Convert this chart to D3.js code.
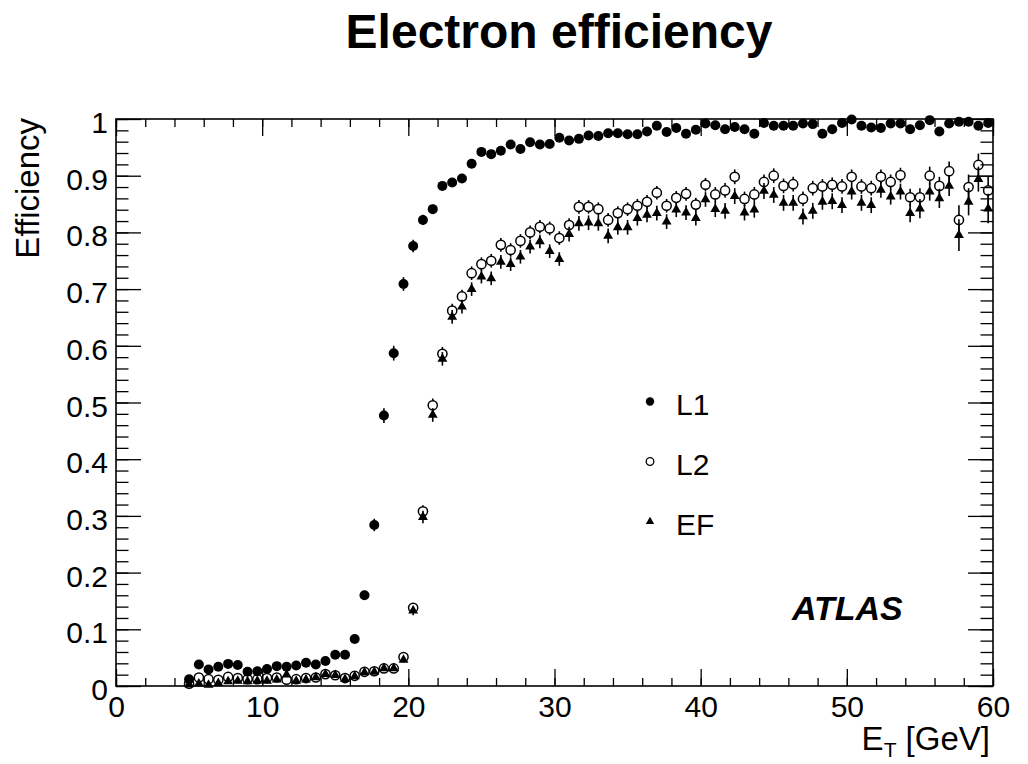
<!DOCTYPE html>
<html>
<head>
<meta charset="utf-8">
<script src="https://cdn.jsdelivr.net/npm/d3@7"></script>
<style>
  body { margin: 0; background: #fff; }
  text { font-family: "Liberation Sans", Arial, Helvetica, sans-serif; }
</style>
</head>
<body>
<svg id="viz"></svg>
<script>

var width = 1028, height = 764

// bin centres of the E_T histogram [GeV]
var etBins = [
  5.00, 5.67, 6.33, 7.00, 7.67, 8.33, 9.00, 9.67, 10.33, 11.00,
  11.67, 12.33, 13.00, 13.67, 14.33, 15.00, 15.67, 16.33, 17.00, 17.67,
  18.33, 19.00, 19.67, 20.33, 21.00, 21.67, 22.33, 23.00, 23.67, 24.33,
  25.00, 25.67, 26.33, 27.00, 27.67, 28.33, 29.00, 29.67, 30.33, 31.00,
  31.67, 32.33, 33.00, 33.67, 34.33, 35.00, 35.67, 36.33, 37.00, 37.67,
  38.33, 39.00, 39.67, 40.33, 41.00, 41.67, 42.33, 43.00, 43.67, 44.33,
  45.00, 45.67, 46.33, 47.00, 47.67, 48.33, 49.00, 49.67, 50.33, 51.00,
  51.67, 52.33, 53.00, 53.67, 54.33, 55.00, 55.67, 56.33, 57.00, 57.67,
  58.33, 59.00, 59.67
]

var effL1 = [
  0.012, 0.038, 0.029, 0.034, 0.039, 0.037, 0.025, 0.026, 0.030, 0.035,
  0.034, 0.036, 0.041, 0.038, 0.044, 0.055, 0.055, 0.083, 0.160, 0.284,
  0.477, 0.587, 0.709, 0.776, 0.822, 0.841, 0.882, 0.888, 0.895, 0.921,
  0.942, 0.938, 0.944, 0.955, 0.947, 0.959, 0.955, 0.956, 0.967, 0.962,
  0.965, 0.971, 0.970, 0.975, 0.975, 0.973, 0.973, 0.978, 0.988, 0.977,
  0.984, 0.974, 0.981, 0.992, 0.989, 0.982, 0.986, 0.982, 0.974, 0.993,
  0.988, 0.988, 0.988, 0.992, 0.991, 0.974, 0.982, 0.993, 0.999, 0.988,
  0.985, 0.984, 0.992, 0.992, 0.982, 0.989, 0.998, 0.978, 0.992, 0.995,
  0.995, 0.988, 0.993
]
var errL1 = [
  0.004, 0.004, 0.004, 0.004, 0.004, 0.004, 0.004, 0.004, 0.004, 0.004,
  0.004, 0.004, 0.004, 0.004, 0.004, 0.004, 0.004, 0.004, 0.008, 0.011,
  0.013, 0.013, 0.012, 0.011, 0.009, 0.008, 0.007, 0.007, 0.006, 0.005,
  0.005, 0.005, 0.005, 0.005, 0.005, 0.005, 0.005, 0.005, 0.005, 0.005,
  0.005, 0.005, 0.005, 0.005, 0.005, 0.005, 0.005, 0.005, 0.005, 0.005,
  0.005, 0.005, 0.005, 0.005, 0.005, 0.005, 0.005, 0.005, 0.005, 0.005,
  0.005, 0.005, 0.005, 0.005, 0.005, 0.005, 0.005, 0.005, 0.005, 0.005,
  0.005, 0.005, 0.005, 0.005, 0.005, 0.005, 0.005, 0.005, 0.005, 0.005,
  0.005, 0.005, 0.005
]

var effL2 = [
  0.004, 0.015, 0.012, 0.011, 0.016, 0.014, 0.012, 0.012, 0.014, 0.015,
  0.011, 0.012, 0.014, 0.015, 0.021, 0.019, 0.014, 0.018, 0.025, 0.026,
  0.031, 0.031, 0.051, 0.138, 0.308, 0.495, 0.586, 0.662, 0.687, 0.728,
  0.744, 0.750, 0.778, 0.769, 0.785, 0.800, 0.810, 0.807, 0.790, 0.813,
  0.845, 0.845, 0.841, 0.822, 0.834, 0.841, 0.847, 0.854, 0.870, 0.847,
  0.861, 0.868, 0.849, 0.884, 0.867, 0.874, 0.898, 0.859, 0.867, 0.889,
  0.900, 0.882, 0.885, 0.859, 0.878, 0.881, 0.884, 0.881, 0.898, 0.881,
  0.878, 0.898, 0.889, 0.901, 0.862, 0.862, 0.900, 0.882, 0.908, 0.822,
  0.880, 0.919, 0.874
]
var errL2 = [
  0.005, 0.005, 0.005, 0.005, 0.005, 0.005, 0.005, 0.005, 0.005, 0.005,
  0.005, 0.005, 0.005, 0.005, 0.005, 0.005, 0.005, 0.005, 0.005, 0.005,
  0.005, 0.005, 0.005, 0.008, 0.011, 0.012, 0.012, 0.012, 0.012, 0.012,
  0.012, 0.012, 0.012, 0.012, 0.012, 0.012, 0.012, 0.012, 0.012, 0.012,
  0.012, 0.012, 0.012, 0.012, 0.012, 0.012, 0.012, 0.012, 0.012, 0.012,
  0.012, 0.012, 0.012, 0.012, 0.013, 0.013, 0.013, 0.013, 0.013, 0.013,
  0.013, 0.013, 0.013, 0.013, 0.013, 0.013, 0.013, 0.013, 0.013, 0.013,
  0.013, 0.013, 0.013, 0.013, 0.015, 0.016, 0.016, 0.016, 0.017, 0.026,
  0.022, 0.020, 0.024
]

var effEF = [
  0.003, 0.004, 0.002, 0.005, 0.008, 0.009, 0.008, 0.009, 0.009, 0.011,
  0.020, 0.009, 0.011, 0.015, 0.021, 0.019, 0.012, 0.017, 0.024, 0.025,
  0.031, 0.031, 0.046, 0.133, 0.298, 0.478, 0.577, 0.651, 0.669, 0.700,
  0.722, 0.719, 0.748, 0.744, 0.757, 0.775, 0.784, 0.767, 0.753, 0.797,
  0.816, 0.817, 0.816, 0.794, 0.809, 0.809, 0.825, 0.831, 0.834, 0.819,
  0.840, 0.835, 0.825, 0.858, 0.841, 0.838, 0.864, 0.835, 0.840, 0.873,
  0.866, 0.852, 0.852, 0.828, 0.838, 0.854, 0.855, 0.848, 0.872, 0.852,
  0.848, 0.875, 0.863, 0.872, 0.834, 0.842, 0.872, 0.860, 0.882, 0.795,
  0.854, 0.894, 0.842
]
var errEF = [
  0.004, 0.004, 0.004, 0.004, 0.004, 0.004, 0.004, 0.004, 0.004, 0.004,
  0.004, 0.004, 0.004, 0.004, 0.004, 0.004, 0.004, 0.004, 0.004, 0.004,
  0.004, 0.004, 0.004, 0.008, 0.011, 0.012, 0.012, 0.012, 0.012, 0.012,
  0.012, 0.012, 0.012, 0.012, 0.012, 0.012, 0.012, 0.012, 0.012, 0.013,
  0.013, 0.013, 0.013, 0.013, 0.013, 0.013, 0.013, 0.013, 0.013, 0.013,
  0.013, 0.013, 0.013, 0.013, 0.014, 0.014, 0.014, 0.014, 0.014, 0.014,
  0.014, 0.014, 0.014, 0.014, 0.014, 0.014, 0.014, 0.014, 0.014, 0.014,
  0.014, 0.014, 0.014, 0.014, 0.016, 0.017, 0.016, 0.017, 0.018, 0.028,
  0.024, 0.022, 0.026
]

var legendNames = ['L1', 'L2', 'EF']
var xMajorTicks = [0, 10, 20, 30, 40, 50, 60]

var x = d3.scaleLinear().domain([0, 60]).range([116, 993])
var y = d3.scaleLinear().domain([0, 1]).range([686, 119])

const svg = d3.select('svg#viz')
    .attr('width', width)
    .attr('height', height)

svg.append('rect')
    .attr('width', width).attr('height', height)
    .attr('fill', '#fff')

// axes, ROOT style: ticks pointing inwards on all four sides
function styleAxis(g) {
  g.select('.domain').remove()
  g.selectAll('line').attr('stroke', '#000').attr('stroke-width', 1.3)
  g.selectAll('text').attr('fill', '#000').style('font-size', '30px')
}

svg.append('g')
    .attr('transform', `translate(0,${y(0)})`)
    .call(d3.axisBottom(x).tickValues(xMajorTicks).tickSize(-17).tickPadding(10).tickFormat(d3.format('d')))
    .call(styleAxis)
svg.append('g')
    .attr('transform', `translate(0,${y(0)})`)
    .call(d3.axisBottom(x).tickValues(d3.range(0, 61, 2)).tickSize(-8).tickFormat(''))
    .call(styleAxis)
svg.append('g')
    .attr('transform', `translate(0,${y(1)})`)
    .call(d3.axisTop(x).tickValues(xMajorTicks).tickSize(-17).tickFormat(''))
    .call(styleAxis)
svg.append('g')
    .attr('transform', `translate(0,${y(1)})`)
    .call(d3.axisTop(x).tickValues(d3.range(0, 61, 2)).tickSize(-8).tickFormat(''))
    .call(styleAxis)

svg.append('g')
    .attr('transform', `translate(${x(0)},0)`)
    .call(d3.axisLeft(y).ticks(10).tickSize(-25).tickPadding(8).tickFormat(d3.format('~g')))
    .call(styleAxis)
    .selectAll('text').attr('dy', '0.45em')
svg.append('g')
    .attr('transform', `translate(${x(0)},0)`)
    .call(d3.axisLeft(y).ticks(50).tickSize(-12.5).tickFormat(''))
    .call(styleAxis)
svg.append('g')
    .attr('transform', `translate(${x(60)},0)`)
    .call(d3.axisRight(y).ticks(10).tickSize(-25).tickFormat(''))
    .call(styleAxis)
svg.append('g')
    .attr('transform', `translate(${x(60)},0)`)
    .call(d3.axisRight(y).ticks(50).tickSize(-12.5).tickFormat(''))
    .call(styleAxis)

svg.append('rect')
    .attr('x', x(0)).attr('y', y(1))
    .attr('width', x(60) - x(0)).attr('height', y(0) - y(1))
    .attr('fill', 'none').attr('stroke', '#000').attr('stroke-width', 1.6)

// data points with error bars
var triangle = d3.symbol().type(d3.symbolTriangle)

function drawSeries(values, errors, kind) {
  var pts = etBins.map((et, i) => ({et: et, v: values[i], e: errors[i]}))
  var g = svg.append('g')
  var gap = kind == 'open' ? 4.5 : 0

  g.selectAll('line.up')
    .data(pts)
    .join('line')
      .attr('x1', d => x(d.et)).attr('x2', d => x(d.et))
      .attr('y1', d => y(d.v) - gap)
      .attr('y2', d => Math.min(y(d.v) - gap, y(d.v + d.e)))
      .attr('stroke', '#000').attr('stroke-width', 1.6)
  g.selectAll('line.down')
    .data(pts)
    .join('line')
      .attr('x1', d => x(d.et)).attr('x2', d => x(d.et))
      .attr('y1', d => y(d.v) + gap)
      .attr('y2', d => Math.max(y(d.v) + gap, y(d.v - d.e)))
      .attr('stroke', '#000').attr('stroke-width', 1.6)

  if (kind == 'filled') {
    g.selectAll('circle')
      .data(pts)
      .join('circle')
        .attr('cx', d => x(d.et)).attr('cy', d => y(d.v))
        .attr('r', 5).attr('fill', '#000')
  } else if (kind == 'open') {
    g.selectAll('circle')
      .data(pts)
      .join('circle')
        .attr('cx', d => x(d.et)).attr('cy', d => y(d.v))
        .attr('r', 4.6).attr('fill', 'none')
        .attr('stroke', '#000').attr('stroke-width', 1.5)
  } else {
    g.selectAll('path')
      .data(pts)
      .join('path')
        .attr('d', triangle.size(42))
        .attr('transform', d => `translate(${x(d.et)},${y(d.v)})`)
        .attr('fill', '#000')
  }
}

drawSeries(effL1, errL1, 'filled')
drawSeries(effL2, errL2, 'open')
drawSeries(effEF, errEF, 'triangle')

// legend
var legendY = [401.5, 461.5, 521.5]
var legend = svg.append('g')
legend.append('circle').attr('cx', 650).attr('cy', legendY[0]).attr('r', 4.2).attr('fill', '#000')
legend.append('circle').attr('cx', 650).attr('cy', legendY[1]).attr('r', 3.8)
    .attr('fill', 'none').attr('stroke', '#000').attr('stroke-width', 1.3)
legend.append('path').attr('d', triangle.size(30)).attr('transform', `translate(650,${legendY[2]})`).attr('fill', '#000')
legend.selectAll('text')
  .data(legendNames)
  .join('text')
    .attr('x', 676)
    .attr('y', (d, i) => legendY[i] + 13.5)
    .style('font-size', '30px')
    .text(d => d)

// titles
svg.append('text')
    .attr('x', 559).attr('y', 48)
    .attr('text-anchor', 'middle')
    .style('font-size', '48px').style('font-weight', 'bold')
    .text('Electron efficiency')

svg.append('text')
    .attr('transform', 'translate(39,118) rotate(-90)')
    .attr('text-anchor', 'end')
    .style('font-size', '33px')
    .text('Efficiency')

var xTitle = svg.append('text')
    .attr('x', 990).attr('y', 750)
    .attr('text-anchor', 'end')
    .style('font-size', '33px')
xTitle.append('tspan').text('E')
xTitle.append('tspan').attr('dy', 7).style('font-size', '21px').text('T')
xTitle.append('tspan').attr('dy', -7).text(' [GeV]')

svg.append('text')
    .attr('x', 792).attr('y', 620)
    .style('font-size', '34px').style('font-weight', 'bold').style('font-style', 'italic')
    .text('ATLAS')

</script>
</body>
</html>
